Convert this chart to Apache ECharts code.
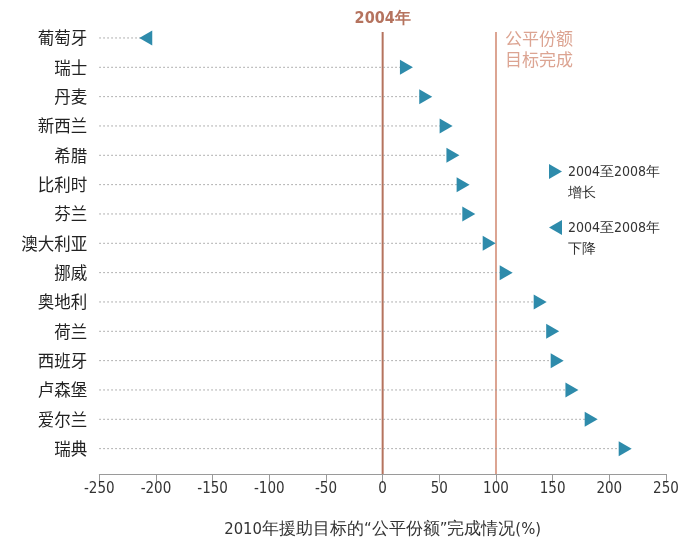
<!DOCTYPE html>
<html><head><meta charset="utf-8">
<script src="https://cdn.jsdelivr.net/npm/echarts@6/dist/echarts.min.js"></script>
<style>html,body{margin:0;padding:0;background:#fff}#c{width:683px;height:538px}</style>
</head><body><div id="c"></div>
<script>
const countries = ['葡萄牙','瑞士','丹麦','新西兰','希腊','比利时','芬兰','澳大利亚','挪威','奥地利','荷兰','西班牙','卢森堡','爱尔兰','瑞典'];
const values = [-209, 21, 38, 56, 62, 71, 76, 94, 109, 139, 150, 154, 167, 184, 214];
const direction = ['down','up','up','up','up','up','up','up','up','up','up','up','up','up','up'];
const xTicks = [-250, 250, 50];
const refLines = [
  {x: 0, label: '2004年'},
  {x: 100, label: '公平份额\n目标完成'}
];
const legendUp = '2004至2008年\n增长';
const legendDown = '2004至2008年\n下降';

const TEAL = '#2e8bab';
const NUM_FONT = "'Liberation Sans Narrow', 'DejaVu Sans Condensed', 'Roboto', sans-serif";
const CJK_FONT = "'Noto Sans CJK SC', sans-serif";

const chart = echarts.init(document.getElementById('c'), null, {renderer: 'canvas'});
const upData = [], downData = [];
values.forEach((v, i) => {
  (direction[i] === 'up' ? upData : downData).push([v, countries[i]]);
});
const lineData = values.map((v, i) => [v, countries[i]]);

function legendItem(top, pts, text) {
  return {
    type: 'group', left: 549, top: top,
    children: [
      {type: 'polygon', shape: {points: pts}, style: {fill: TEAL}},
      {type: 'text', x: 19, y: 0, style: {text: text, fill: '#333',
        font: "14px " + NUM_FONT, lineHeight: 21, verticalAlign: 'top'}}
    ]
  };
}

chart.setOption({
  animation: false,
  grid: {left: 99.3, right: 683 - 666, top: 23.3, height: 440, containLabel: false, outerBoundsMode: 'none'},
  xAxis: {
    type: 'value', min: xTicks[0], max: xTicks[1], interval: xTicks[2],
    offset: 10.7,
    axisLine: {show: true, lineStyle: {color: '#9a9a9a', width: 1}},
    axisTick: {show: true, length: 9, lineStyle: {color: '#9a9a9a'}},
    splitLine: {show: false},
    axisLabel: {color: '#333', fontSize: 15, fontFamily: NUM_FONT, margin: 8},
    name: '2010年援助目标的“公平份额”完成情况(%)',
    nameLocation: 'middle', nameGap: 47,
    nameTextStyle: {color: '#333', fontSize: 16.5, fontFamily: NUM_FONT}
  },
  yAxis: {
    type: 'category', data: countries, inverse: true,
    axisLine: {show: false}, axisTick: {show: false},
    axisLabel: {color: '#222', fontSize: 16.5, fontFamily: CJK_FONT, margin: 12}
  },
  graphic: [
    legendItem(162, [[0, 2], [13, 9.5], [0, 17]], legendUp),
    legendItem(218, [[13, 2], [0, 9.5], [13, 17]], legendDown)
  ],
  series: [
    {
      type: 'custom', name: 'ref', silent: true, z: 1,
      data: refLines.map(r => [r.x]),
      renderItem: function (params, api) {
        const cs = params.coordSys;
        const x = api.coord([api.value(0), countries[0]])[0];
        const top = api.coord([0, countries[0]])[1] - 6;
        const bottom = cs.y + cs.height + 10.7;
        const idx = params.dataIndex;
        const color = idx === 0 ? '#b5735e' : '#dca492';
        const children = [{
          type: 'line', shape: {x1: x, y1: top, x2: x, y2: bottom},
          style: {stroke: color, lineWidth: 2}
        }];
        if (idx === 0) {
          children.push({type: 'text', x: x, y: top - 5, style: {
            text: refLines[idx].label, fill: '#b5735e', font: "bold 16px " + NUM_FONT,
            align: 'center', verticalAlign: 'bottom'}});
        } else {
          children.push({type: 'text', x: x + 9, y: top - 4, style: {
            text: refLines[idx].label, fill: '#dca492', font: "17px " + CJK_FONT,
            lineHeight: 21, align: 'left', verticalAlign: 'top'}});
        }
        return {type: 'group', children: children};
      }
    },
    {
      type: 'custom', name: 'dots', silent: true, z: 2,
      data: lineData,
      encode: {x: 0, y: 1},
      renderItem: function (params, api) {
        const p0 = api.coord([xTicks[0], api.value(1)]);
        const p1 = api.coord([api.value(0), api.value(1)]);
        return {type: 'line', shape: {x1: p0[0], y1: p0[1], x2: p1[0], y2: p1[1]},
          style: {stroke: '#9a9a9a', lineWidth: 1, lineDash: [1.5, 2.5]}};
      }
    },
    {
      type: 'scatter', name: legendUp, data: upData, z: 3,
      symbol: 'triangle', symbolSize: [15, 13], symbolRotate: -90,
      itemStyle: {color: TEAL, opacity: 1}
    },
    {
      type: 'scatter', name: legendDown, data: downData, z: 3,
      symbol: 'triangle', symbolSize: [15, 13], symbolRotate: 90,
      itemStyle: {color: TEAL, opacity: 1}
    }
  ]
});
</script></body></html>
